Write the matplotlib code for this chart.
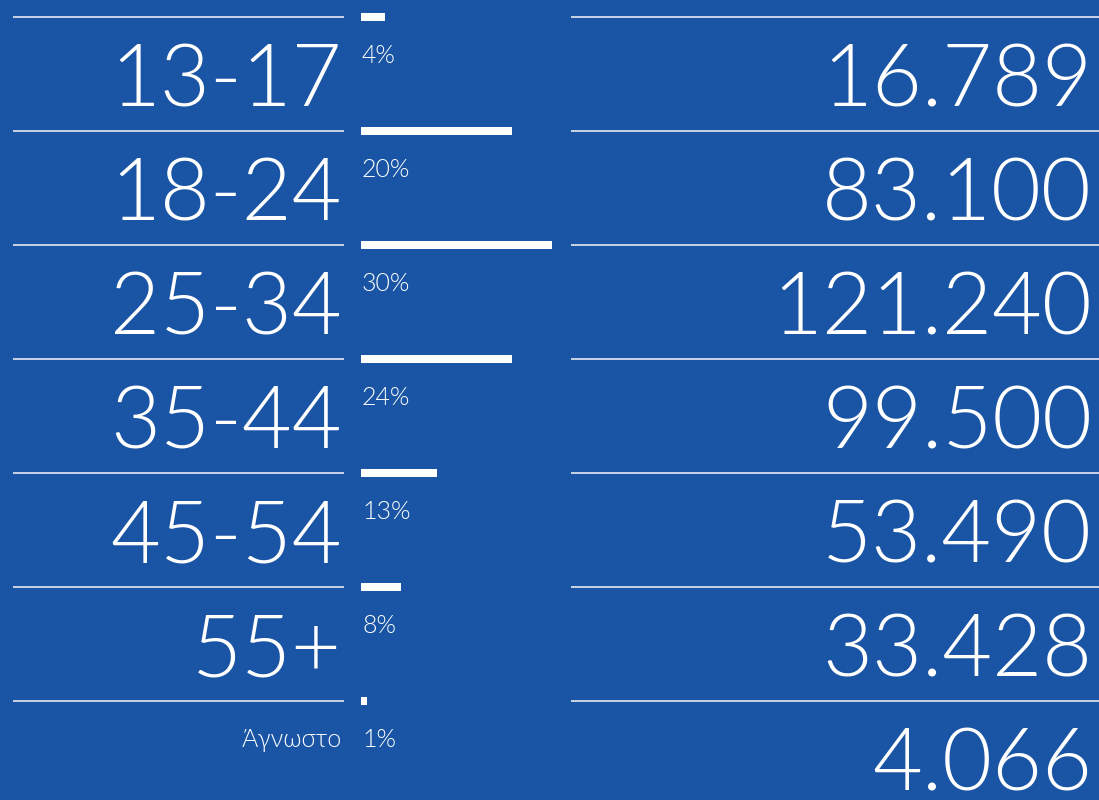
import numpy as np
import matplotlib.pyplot as plt

# --- datos ---
grupos = ["13-17", "18-24", "25-34", "35-44", "45-54", "55+", "Άγνωστο"]
porcentajes = ["4%", "20%", "30%", "24%", "13%", "8%", "1%"]
usuarios = ["16.789", "83.100", "121.240", "99.500", "53.490", "33.428", "4.066"]
# longitud de las barras (máximo = 100)
largo_barra = [12.6, 79, 100, 79, 40, 21, 3]

FONDO = "#1a55a5"
LINEA = "#d6dde9"
FUENTE = ["Lato", "DejaVu Sans"]
PESO = 300

W, H = 1099, 800
y0, paso = 16.7, 114.0          # posición de la primera línea y separación (px)

fig = plt.figure(figsize=(W / 100, H / 100), dpi=100, facecolor=FONDO)
ax = fig.add_axes([0, 0, 1, 1])
ax.set_facecolor(FONDO)
ax.set_xlim(0, W)
ax.set_ylim((H - y0) / paso, -y0 / paso)
ax.axis("off")

filas = np.arange(len(grupos))
px = 1 / paso   # un píxel en unidades de fila

# líneas separadoras
ax.hlines(filas, 13, 344, color=LINEA, lw=1.3)
ax.hlines(filas, 571, W, color=LINEA, lw=1.3)

# barras
bax = fig.add_axes([361 / W, 0, 191 / W, 1], sharey=ax)
bax.set_xlim(0, 100)
bax.axis("off")
bax.barh(filas, largo_barra, height=8 * px, color="white")

for i, (g, p, u) in enumerate(zip(grupos, porcentajes, usuarios)):
    if i < len(grupos) - 1:
        ax.text(342, i + 90 * px, g, ha="right", va="baseline", color="white",
                fontsize=62, family=FUENTE, fontweight=PESO)
    else:
        ax.text(342, i + 46 * px, g, ha="right", va="baseline", color="white",
                fontsize=18, family=FUENTE, fontweight=PESO)
    ax.text(362, i + 46 * px, p, ha="left", va="baseline", color="white",
            fontsize=18, family=FUENTE, fontweight=PESO)
    ax.text(1092, i + 90 * px, u, ha="right", va="baseline", color="white",
            fontsize=62, family=FUENTE, fontweight=PESO)

fig.savefig("out.png", dpi=100, facecolor=FONDO)
